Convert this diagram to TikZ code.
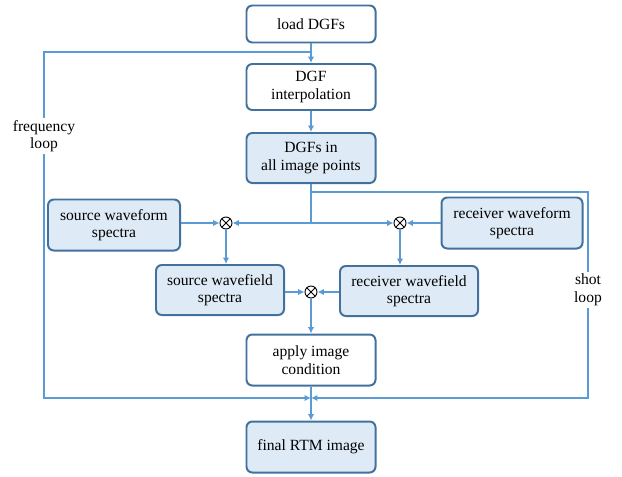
\documentclass[tikz,border=0pt]{standalone}
\usepackage{fontspec}
\setmainfont{Liberation Serif}
\usepackage{tikz}
\usetikzlibrary{arrows.meta}
\usetikzlibrary{positioning, shapes.misc}
\definecolor{flowline}{HTML}{5B9BD5}
\definecolor{boxline}{HTML}{41719C}
\definecolor{boxfill}{HTML}{DEEBF7}

\begin{document}
\begin{tikzpicture}[
  x=0.03cm, y=-0.03cm,
  every node/.style={font=\fontsize{13.3}{15}\selectfont},
  box/.style={rectangle, rounded corners=5pt, draw=boxline, line width=1.7pt,
    align=center, inner sep=2pt},
  mult/.style={circle, draw=black, line width=0.8pt, minimum size=0.36cm, inner sep=0pt,
    path picture={\draw[line width=0.8pt]
      (path picture bounding box.north west) -- (path picture bounding box.south east)
      (path picture bounding box.north east) -- (path picture bounding box.south west);}},
  flow/.style={draw=flowline, line width=1.5pt},
  arr/.style={flow, -{Latex[length=5.5pt,width=5.5pt]}},
  looplabel/.style={fill=white, align=center, inner sep=2pt}
]
  \useasboundingbox (0,0) rectangle (622,476);

  \node[box, fill=white, minimum width=3.87cm, minimum height=1.11cm] (load) at (311,24) {load DGFs};
  \node[box, fill=white, minimum width=3.87cm, minimum height=1.38cm] (interp) at (311,87) {DGF\\interpolation};
  \node[box, fill=boxfill, minimum width=3.87cm, minimum height=1.5cm] (dgfs) at (311,158) {DGFs in\\all image points};
  \node[box, fill=boxfill, minimum width=3.96cm, minimum height=1.53cm] (srcwf) at (114,225) {source waveform\\spectra};
  \node[box, fill=boxfill, minimum width=4.23cm, minimum height=1.53cm] (recwf) at (512,223) {receiver waveform\\spectra};
  \node[box, fill=boxfill, minimum width=3.84cm, minimum height=1.5cm] (srcfld) at (220,290) {source wavefield\\spectra};
  \node[box, fill=boxfill, minimum width=4.14cm, minimum height=1.5cm] (recfld) at (409,291) {receiver wavefield\\spectra};
  \node[box, fill=white, minimum width=3.87cm, minimum height=1.53cm] (apply) at (311,360) {apply image\\condition};
  \node[box, fill=boxfill, minimum width=3.87cm, minimum height=1.53cm] (final) at (311,447) {final RTM image};

  \node[mult] (mulS) at (226,223) {};
  \node[mult] (mulR) at (400,223) {};
  \node[mult] (mulI) at (311,292) {};

  \coordinate (ftop) at (311,52);
  \coordinate (split) at (311,223);
  \coordinate (sbranch) at (311,192);
  \coordinate (bjoin) at (311,398);

  \draw[arr] (load) -- (interp);
  \draw[arr] (ftop) -- (44,52) -- (44,398) -- (bjoin);
  \draw[arr] (interp) -- (dgfs);
  \draw[flow] (dgfs) -- (split);
  \draw[arr] (sbranch) -- (588,192) -- (588,398) -- (bjoin);
  \draw[arr] (split) -- (mulS);
  \draw[arr] (split) -- (mulR);
  \draw[arr] (srcwf.east |- mulS) -- (mulS);
  \draw[arr] (recwf) -- (mulR);
  \draw[arr] (mulS) -- (srcfld.north -| mulS);
  \draw[arr] (mulR) -- (recfld.north -| mulR);
  \draw[arr] (srcfld.east |- mulI) -- (mulI);
  \draw[arr] (recfld.west |- mulI) -- (mulI);
  \draw[arr] (mulI) -- (apply);
  \draw[arr] (apply) -- (final);

  \node[looplabel] (freq) at (44,136) {frequency\\loop};
  \node[looplabel] (shot) at (588,290) {shot\\loop};
\end{tikzpicture}
\end{document}
